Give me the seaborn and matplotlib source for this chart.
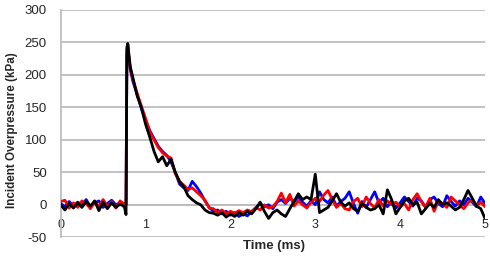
import matplotlib
matplotlib.use("Agg")
import matplotlib.pyplot as plt
import seaborn as sns
import pandas as pd

time_ms = [0.00, 0.05, 0.10, 0.15, 0.20, 0.25, 0.30, 0.35, 0.40, 0.45, 0.50, 0.55, 0.60, 0.65, 0.70, 0.75,
           0.77, 0.78, 0.79, 0.80, 0.82, 0.85,
           0.90, 0.95, 1.00, 1.05, 1.10, 1.15, 1.20, 1.25, 1.30, 1.35, 1.40, 1.45, 1.50, 1.55, 1.60, 1.65, 1.70, 1.75,
           1.80, 1.85, 1.90, 1.95, 2.00, 2.05, 2.10, 2.15, 2.20, 2.25, 2.30, 2.35, 2.40, 2.45, 2.50, 2.55, 2.60, 2.65,
           2.70, 2.75, 2.80, 2.85, 2.90, 2.95, 3.00, 3.05, 3.10, 3.15, 3.20, 3.25, 3.30, 3.35, 3.40, 3.45, 3.50, 3.55,
           3.60, 3.65, 3.70, 3.75, 3.80, 3.85, 3.90, 3.95, 4.00, 4.05, 4.10, 4.15, 4.20, 4.25, 4.30, 4.35, 4.40, 4.45,
           4.50, 4.55, 4.60, 4.65, 4.70, 4.75, 4.80, 4.85, 4.90, 4.95, 5.00]

blue = [2, -3, 5, -2, 4, 0, 8, -3, 3, 6, -4, 2, 7, 0, 3, 2,
        0, 228, 246, 230, 208, 190,
        170, 148, 130, 114, 102, 90, 82, 76, 66, 50, 32, 26, 22, 36, 28, 18, 6, -4,
        -10, -8, -14, -10, -16, -12, -18, -14, -17, -10, -5, 2, -3, 0, -6, 4, 8, 2,
        10, 5, 12, 4, -2, 6, 0, 20, 8, 3, 12, -2, 5, 10, 20, 2, -13, 5,
        -4, 8, 20, 3, 10, -3, 6, -5, 3, 12, 5, -2, 10, 6, -4, 8, 12, 2,
        -3, 14, 5, -2, 6, 0, 10, 4, -3, 12, 2]

red = [5, 7, -5, 3, -4, 6, 2, -6, 4, -2, 8, -3, 5, -5, 6, 1,
       2, 235, 247, 232, 210, 193,
       172, 152, 133, 112, 100, 88, 80, 75, 72, 48, 36, 30, 24, 26, 20, 14, 7, -5,
       -6, -12, -8, -14, -10, -13, -9, -12, -8, -11, -4, -8, 0, -5, -3, 5, 18, 3,
       16, -2, 6, 0, -5, 4, 10, 5, 15, 22, 8, -4, 2, -6, -8, 5, 10, -3,
       12, 2, -5, 8, -2, 6, 0, 4, -3, 2, -8, 8, 17, 5, -4, 10, -10, 6,
       2, -4, 12, 6, 0, -6, 3, 8, -2, 4, -3]

black = [0, -8, 2, -5, 3, -4, 5, -2, 6, -9, 4, -6, 3, -4, 1, -3,
         -15, 242, 248, 236, 212, 196,
         168, 150, 124, 104, 82, 66, 74, 60, 70, 50, 36, 28, 14, 8, 3, 0, -8, -12,
         -13, -16, -12, -19, -14, -18, -12, -16, -10, -14, -6, 4, -10, -21, -12, -8, -14, -18,
         -6, 5, 17, 8, 12, 8, 47, -12, -8, -4, 6, 17, 4, -2, 3, -6, -10, 2,
         -4, -8, -6, 0, -14, 23, 8, -14, -4, 6, 10, 0, 4, -14, -6, 2, -4, 8,
         0, 3, -2, -8, -4, 8, 22, 10, -2, -6, -21]

y_ticks = [-50, 0, 50, 100, 150, 200, 250, 300]
x_ticks = [0, 1, 2, 3, 4, 5]

sns.set_style("white")
plt.rcParams['font.family'] = ['Liberation Sans', 'DejaVu Sans']

fig = plt.figure(figsize=(4.9, 2.58), dpi=100)
ax = fig.add_axes([60.7 / 490, 1 - 237.3 / 258, (485 - 60.7) / 490, (237.3 - 9.7) / 258])

grid_c = "#bdbdbd"
df = pd.DataFrame({"t": time_ms, "blue": blue, "red": red, "black": black})
for col, c in [("blue", "#0000ff"), ("red", "#ff0000"), ("black", "#000000")]:
    sns.lineplot(data=df, x="t", y=col, color=c, linewidth=2.0, ax=ax, zorder=3)

ax.set_xlim(0, 5)
ax.set_ylim(-50, 300)
ax.set_yticks(y_ticks)
ax.set_xticks(x_ticks)
ax.set_xticklabels([str(v) for v in x_ticks])
ax.set_yticklabels([str(v) for v in y_ticks])
ax.yaxis.grid(True, color=grid_c, linewidth=1.3, zorder=0)
ax.xaxis.grid(False)
for s in ["top", "right"]:
    ax.spines[s].set_visible(False)
ax.spines["left"].set_color(grid_c)
ax.spines["left"].set_linewidth(1.3)
ax.spines["bottom"].set_position(("data", 0))
ax.spines["bottom"].set_color(grid_c)
ax.spines["bottom"].set_linewidth(1.3)
ax.tick_params(axis="x", direction="out", length=4, width=1.0, color=grid_c, pad=6, labelsize=9)
ax.tick_params(axis="y", direction="out", length=3, width=1.0, color=grid_c, pad=7, labelsize=9.5)

ax.set_xlabel("Time (ms)", fontsize=9.5, fontweight="bold")
ax.set_ylabel("Incident Overpressure (kPa)", fontsize=8.4, fontweight="bold")
ax.xaxis.set_label_coords(0.503, -0.01)
ax.yaxis.set_label_coords(-0.1, 0.471)

fig.savefig("out.png", dpi=100)
